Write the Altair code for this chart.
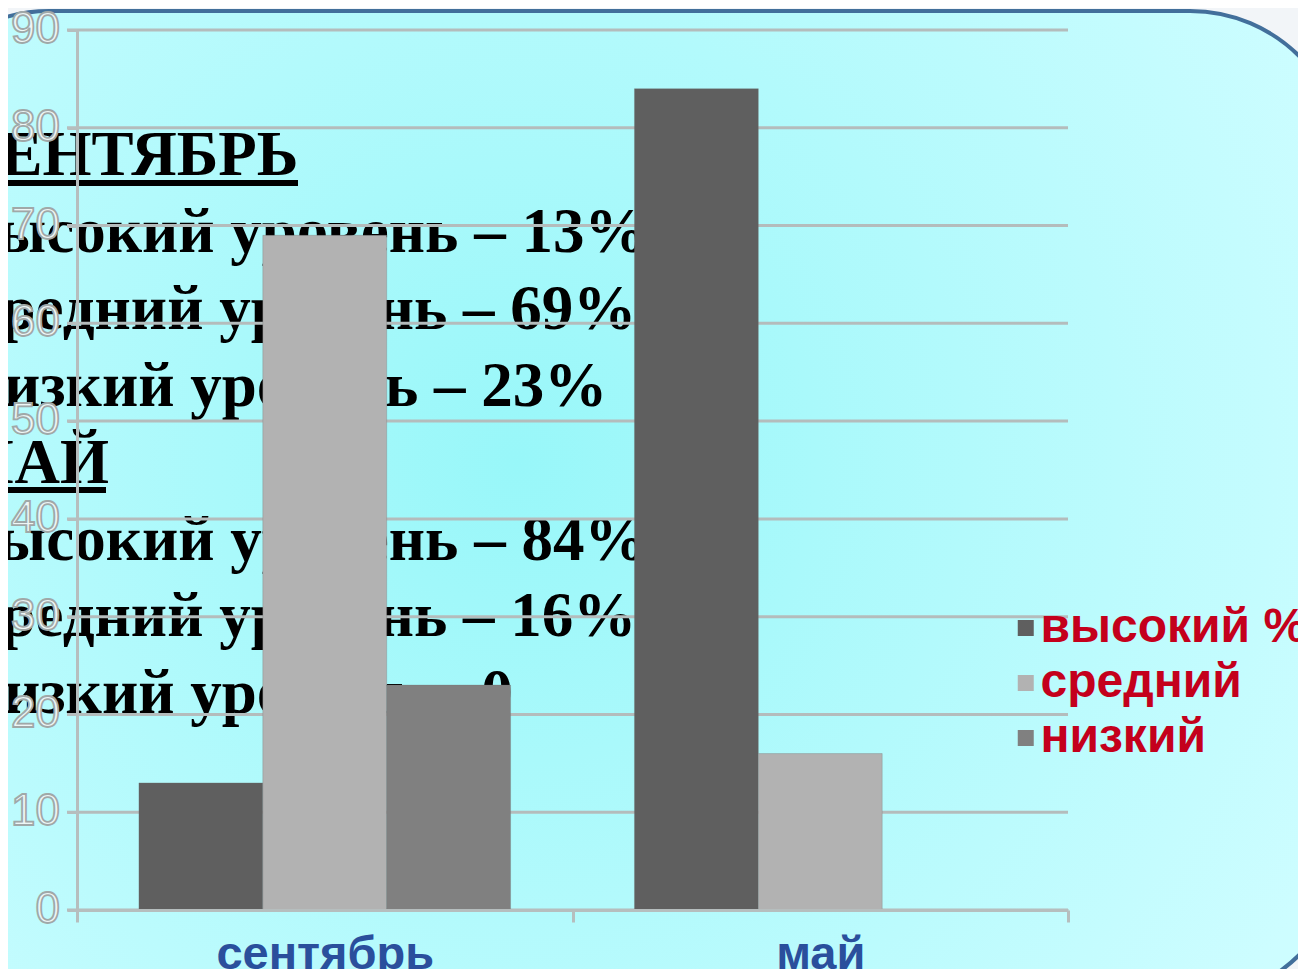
import altair as alt
import pandas as pd

# ---- data ----
months = ["сентябрь", "май"]
levels = ["высокий %", "средний", "низкий"]
sept_values = [13, 69, 23]
may_values = [84, 16, 0]
level_colors = ["#5f5f5f", "#b2b2b2", "#808080"]
y_ticks = [0, 10, 20, 30, 40, 50, 60, 70, 80, 90]
overlay_lines = [
    "СЕНТЯБРЬ",
    "Высокий уровень – 13%",
    "Средний уровень – 69%",
    "Низкий уровень – 23%",
    "МАЙ",
    "Высокий уровень – 84%",
    "Средний уровень – 16%",
    "Низкий уровень – 0",
]

rows = []
for m, vals in zip(months, [sept_values, may_values]):
    for lv, v in zip(levels, vals):
        rows.append({"month": m, "level": lv, "value": v})
bars_df = pd.DataFrame(rows)
ticks_df = pd.DataFrame({"t": y_ticks})
one_df = pd.DataFrame({"a": [0]})

W, H = 991, 880
sans = "Liberation Sans, Arial"

yscale = alt.Scale(domain=[0, 90], nice=False, zero=True)
yaxis = alt.Axis(
    title="", labels=False, grid=False, domain=True, domainColor="#b6bebe",
    domainWidth=3, ticks=True, tickSize=10, tickColor="#b6bebe", tickWidth=3,
    values=y_ticks, zindex=1,
)

# background slide panel
bg = alt.Chart(one_df).mark_rect(
    cornerRadius=155,
    stroke="#426f9b",
    strokeWidth=4,
    fill=alt.RadialGradient(
        gradient="radial",
        x1=0.43, y1=0.47, r1=0.0,
        x2=0.43, y2=0.47, r2=0.62,
        stops=[
            alt.GradientStop(offset=0, color="#98f7f9"),
            alt.GradientStop(offset=1, color="#cdfdff"),
        ],
    ),
).encode(
    x=alt.value(-183), x2=alt.value(1268), y=alt.value(-19), y2=alt.value(970)
)

# overlay text (behind bars)
overlay = alt.Chart(one_df).mark_text(
    align="left", baseline="alphabetic", font="Liberation Serif",
    fontWeight="bold", fontSize=63, lineHeight=76.9, lineBreak="\n",
    color="#000000",
).encode(
    x=alt.value(-122), y=alt.value(145), text=alt.value("\n".join(overlay_lines))
)

underline1 = alt.Chart(one_df).mark_rule(color="#000000", strokeWidth=6).encode(
    x=alt.value(-122), x2=alt.value(221), y=alt.value(153)
)
underline2 = alt.Chart(one_df).mark_rule(color="#000000", strokeWidth=6).encode(
    x=alt.value(-122), x2=alt.value(29), y=alt.value(460)
)

grid = alt.Chart(ticks_df).mark_rule(color="#b4bcbc", strokeWidth=3).encode(
    y=alt.Y("t:Q", scale=yscale, axis=yaxis),
    x=alt.value(-10), x2=alt.value(W),
)

ylabels = alt.Chart(ticks_df).mark_text(
    align="right", baseline="middle", font=sans, fontSize=44,
    fill="#eef6f6", stroke="#a0a8a8", strokeWidth=1.8,
).encode(
    y=alt.Y("t:Q", scale=yscale, axis=yaxis),
    x=alt.value(-17),
    text=alt.Text("t:Q"),
)

bars = alt.Chart(bars_df).mark_bar(stroke="#6e6e6e", strokeWidth=0.6, strokeOpacity=0.5).encode(
    x=alt.X(
        "month:N", sort=months, title="",
        scale=alt.Scale(paddingInner=0, paddingOuter=0),
        axis=alt.Axis(
            labelAngle=0, tickBand="extent", domainColor="#b6bebe", domainWidth=3,
            tickColor="#b6bebe", tickWidth=3, tickSize=12, labelFont=sans,
            labelFontWeight="bold", labelFontSize=47, labelColor="#2a4f9c",
            labelBaseline="alphabetic", labelPadding=46, labelLimit=600,
            zindex=1, grid=False,
        ),
    ),
    xOffset=alt.XOffset("level:N", sort=levels,
                        scale=alt.Scale(paddingInner=0, paddingOuter=0.5)),
    y=alt.Y("value:Q", scale=yscale, axis=yaxis),
    color=alt.Color(
        "level:N", sort=levels,
        scale=alt.Scale(domain=levels, range=level_colors),
        legend=alt.Legend(
            title="", orient="none", legendX=915.5, legendY=574,
            symbolType="M0.156,-1H2.156V1H0.156Z", symbolSize=256,
            symbolStrokeWidth=0,
            labelFont=sans, labelFontWeight="bold", labelFontSize=48,
            labelColor="#c4001c", labelOffset=0, rowPadding=7, padding=0,
            labelLimit=600,
        ),
    ),
)

chart = alt.layer(bg, overlay, underline1, underline2, grid, bars, ylabels).properties(
    width=W, height=H,
    padding={"left": 69, "top": 22, "right": 230, "bottom": 59},
    autosize=alt.AutoSizeParams(type="none"),
    background="#f2f5f8",
).configure_view(stroke=None)

chart.save("out.html", embed_options={"renderer": "svg", "actions": False})
